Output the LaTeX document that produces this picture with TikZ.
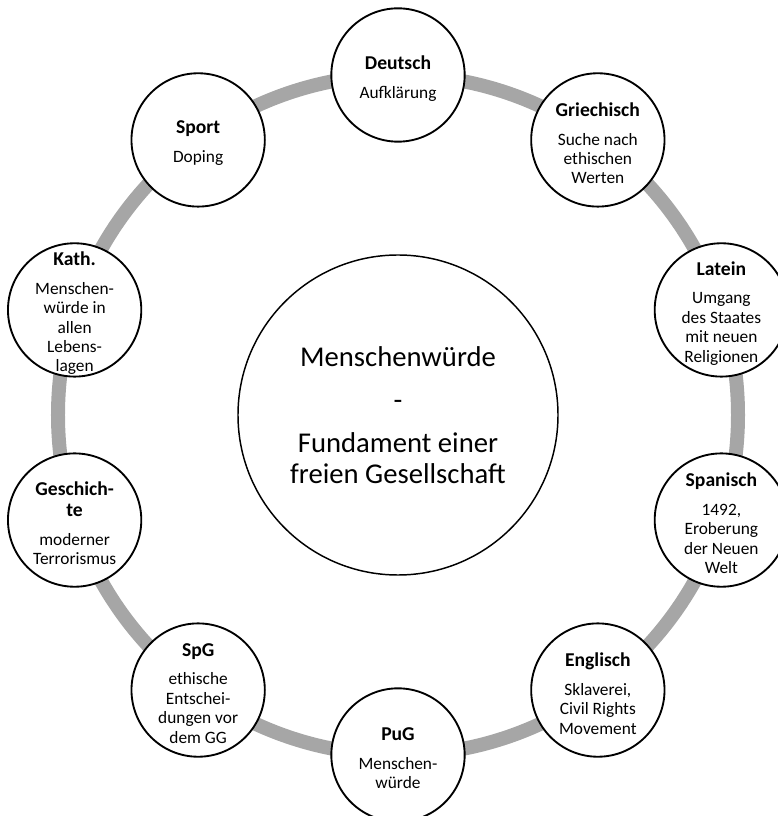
\documentclass[tikz,border=0pt]{standalone}
\usepackage{fontspec}
\setmainfont{Carlito}
\definecolor{ringgrau}{HTML}{A6A6A6}
\newcommand{\titel}[1]{{\bfseries\fontsize{14.7}{15.8}\selectfont #1}}

\begin{document}
\begin{tikzpicture}[
            x = 0.75pt, y = 0.75pt, % one unit = one pixel
            fach/.style = {circle, draw = black, line width = 1.4pt, fill = white, minimum size = 100pt, inner sep = 0pt},
            inhalt/.style = {align = center, inner sep = 0pt, yshift = -2.5pt, font = \fontsize{13}{14.6}\selectfont},
            kern/.style = {circle, draw = black, line width = 1.1pt, fill = white, minimum size = 240pt, inner sep = 0pt},
            ring/.style = {draw = ringgrau, line width = 10.5pt}
        ]

        \useasboundingbox (-398,-401) rectangle (379,415);

        % grey ring behind everything
        \coordinate (zentrum) at (0,0);
        \draw[ring] (zentrum) circle (340);

        % subjects round the ring
        \node[fach] (deutsch) at (90:340) {};
        \node[inhalt] (deutsch-t) at (deutsch) {\titel{Deutsch}\\[7pt]Aufklärung};

        \node[fach] (griechisch) at (54:340) {};
        \node[inhalt] (griechisch-t) at (griechisch) {\titel{Griechisch}\\[7pt]Suche nach\\ethischen\\Werten};

        \node[fach] (latein) at (18:340) {};
        \node[inhalt] (latein-t) at (latein) {\titel{Latein}\\[7pt]Umgang\\des Staates\\mit neuen\\Religionen};

        \node[fach] (spanisch) at (-18:340) {};
        \node[inhalt] (spanisch-t) at (spanisch) {\titel{Spanisch}\\[7pt]1492,\\Eroberung\\der Neuen\\Welt};

        \node[fach] (englisch) at (-54:340) {};
        \node[inhalt] (englisch-t) at (englisch) {\titel{Englisch}\\[7pt]Sklaverei,\\Civil Rights\\Movement};

        \node[fach] (pug) at (-90:340) {};
        \node[inhalt] (pug-t) at (pug) {\titel{PuG}\\[7pt]Menschen-\\würde};

        \node[fach] (spg) at (-126:340) {};
        \node[inhalt] (spg-t) at (spg) {\titel{SpG}\\[7pt]ethische\\Entschei-\\dungen vor\\dem GG};

        \node[fach] (geschichte) at (-162:340) {};
        \node[inhalt] (geschichte-t) at (geschichte) {\titel{Geschich-}\\[1pt]\titel{te}\\[7pt]moderner\\Terrorismus};

        \node[fach] (kath) at (162:340) {};
        \node[inhalt] (kath-t) at (kath) {\titel{Kath.}\\[7pt]Menschen-\\würde in\\allen\\Lebens-\\lagen};

        \node[fach] (sport) at (126:340) {};
        \node[inhalt] (sport-t) at (sport) {\titel{Sport}\\[7pt]Doping};

        % central theme
        \node[kern] (mitte) at (zentrum) {};
        \node[align = center, inner sep = 0pt, font = \fontsize{21.5}{23.3}\selectfont] (leitthema) at (mitte)
            {Menschenwürde\\[9pt]-\\[9pt]Fundament einer\\freien Gesellschaft};
    \end{tikzpicture}
\end{document}
